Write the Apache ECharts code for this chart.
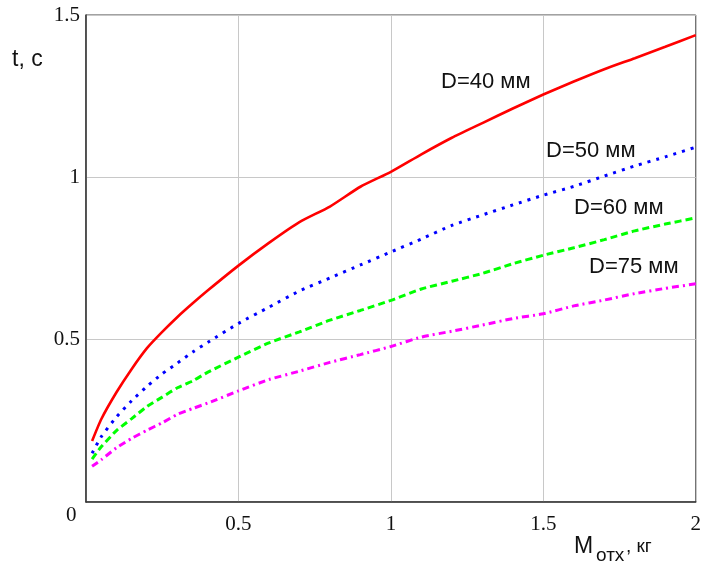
<!DOCTYPE html>
<html>
<head>
<meta charset="utf-8">
<script src="https://cdn.jsdelivr.net/npm/echarts@6/dist/echarts.min.js"></script>
<style>html,body{margin:0;padding:0;background:#fff;}#c{width:704px;height:562px;}</style>
</head>
<body>
<div id="c"></div>
<script>
const massKg = [0.02, 0.05, 0.1, 0.15, 0.2, 0.25, 0.3, 0.35, 0.4, 0.5, 0.6, 0.7, 0.8, 0.9, 1.0, 1.1, 1.2, 1.3, 1.4, 1.5, 1.6, 1.7, 1.8, 1.9, 2.0];
const tD40 = [0.188, 0.255, 0.338, 0.410, 0.474, 0.524, 0.570, 0.612, 0.652, 0.728, 0.798, 0.862, 0.910, 0.971, 1.017, 1.071, 1.122, 1.167, 1.212, 1.255, 1.295, 1.333, 1.367, 1.402, 1.438];
const tD50 = [0.150, 0.201, 0.262, 0.312, 0.356, 0.395, 0.428, 0.462, 0.492, 0.550, 0.600, 0.650, 0.690, 0.730, 0.770, 0.810, 0.852, 0.884, 0.915, 0.945, 0.972, 1.004, 1.035, 1.063, 1.093];
const tD60 = [0.132, 0.170, 0.220, 0.257, 0.294, 0.323, 0.352, 0.373, 0.400, 0.446, 0.490, 0.524, 0.560, 0.590, 0.621, 0.656, 0.680, 0.704, 0.734, 0.760, 0.783, 0.808, 0.835, 0.856, 0.875];
const tD75 = [0.110, 0.130, 0.167, 0.196, 0.221, 0.244, 0.270, 0.288, 0.305, 0.342, 0.377, 0.403, 0.430, 0.454, 0.479, 0.508, 0.526, 0.545, 0.565, 0.580, 0.604, 0.622, 0.642, 0.658, 0.672];
const seriesNames = ['D=40 мм', 'D=50 мм', 'D=60 мм', 'D=75 мм'];
const xTicks = [0, 0.5, 1, 1.5, 2];
const yTicks = [0, 0.5, 1, 1.5];

const pairs = arr => massKg.map((m, i) => [m, arr[i]]);
const serifFont = '"Liberation Serif", "DejaVu Serif", serif';
const sansFont = '"Liberation Sans", Arial, sans-serif';

const chart = echarts.init(document.getElementById('c'), null, {renderer: 'canvas'});
chart.setOption({
  animation: false,
  backgroundColor: '#fff',
  grid: {left: 86, right: 8, top: 15, bottom: 60, show: true, borderColor: '#444', borderWidth: 1},
  xAxis: {
    type: 'value', min: xTicks[0], max: xTicks[xTicks.length - 1], interval: 0.5,
    axisLine: {show: true, lineStyle: {color: '#333', width: 1.5}},
    axisTick: {show: false},
    splitLine: {show: true, lineStyle: {color: '#c8c8c8', width: 1}},
    axisLabel: {
      margin: 12, fontSize: 21, fontFamily: serifFont, color: '#111',
      formatter: v => (v === 0 ? '' : String(v))
    }
  },
  yAxis: {
    type: 'value', min: yTicks[0], max: yTicks[yTicks.length - 1], interval: 0.5,
    axisLine: {show: true, lineStyle: {color: '#333', width: 1.5}},
    axisTick: {show: false},
    splitLine: {show: true, lineStyle: {color: '#c8c8c8', width: 1}},
    axisLabel: {
      margin: 6, fontSize: 21, fontFamily: serifFont, color: '#111',
      formatter: v => (v === 0 ? '' : String(v))
    }
  },
  series: [
    {name: seriesNames[0], type: 'line', data: pairs(tD40), showSymbol: false, smooth: 0.2,
     lineStyle: {color: '#ff0000', width: 2.6, type: 'solid'}},
    {name: seriesNames[1], type: 'line', data: pairs(tD50), showSymbol: false, smooth: 0.2,
     lineStyle: {color: '#0000ff', width: 3, type: [3, 6]}},
    {name: seriesNames[2], type: 'line', data: pairs(tD60), showSymbol: false, smooth: 0.2,
     lineStyle: {color: '#00ff00', width: 3, type: [7, 4]}},
    {name: seriesNames[3], type: 'line', data: pairs(tD75), showSymbol: false, smooth: 0.2,
     lineStyle: {color: '#ff00ff', width: 3, type: [7, 4, 2, 4]}}
  ],
  graphic: [
    {type: 'text', left: 66, top: 505, style: {text: '0', font: '21px ' + serifFont, fill: '#111'}},
    {type: 'text', left: 12, top: 48, style: {text: 't, c', font: '23px ' + sansFont, fill: '#111'}},
    {type: 'text', left: 574, top: 535, style: {text: 'M', font: '23px ' + sansFont, fill: '#111'}},
    {type: 'text', left: 596, top: 546, style: {text: 'отх', font: '19px ' + sansFont, fill: '#111'}},
    {type: 'text', left: 626, top: 537, style: {text: ', кг', font: '19px ' + sansFont, fill: '#111'}},
    {type: 'text', left: 441, top: 71, z: 10, style: {text: seriesNames[0], font: '22px ' + sansFont, fill: '#111', backgroundColor: '#fff'}},
    {type: 'text', left: 545, top: 138, z: 10, style: {text: seriesNames[1], font: '22px ' + sansFont, fill: '#111', backgroundColor: '#fff', padding: [2, 1]}},
    {type: 'text', left: 574, top: 197, z: 10, style: {text: seriesNames[2], font: '22px ' + sansFont, fill: '#111', backgroundColor: '#fff'}},
    {type: 'text', left: 589, top: 256, z: 10, style: {text: seriesNames[3], font: '22px ' + sansFont, fill: '#111', backgroundColor: '#fff'}}
  ]
});
</script>
</body>
</html>
